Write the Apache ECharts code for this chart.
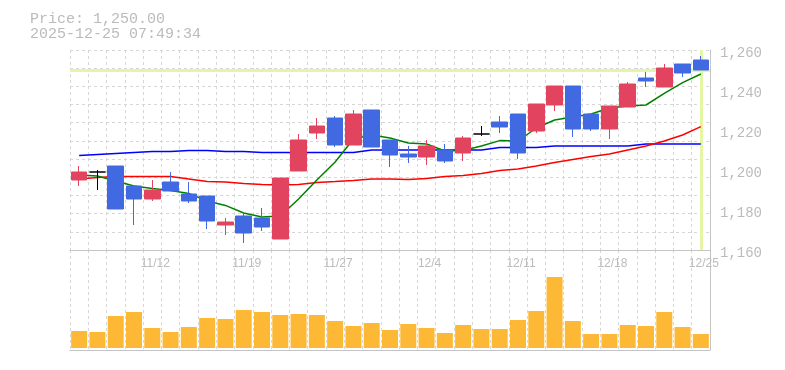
<!DOCTYPE html>
<html>
<head>
<meta charset="utf-8">
<script src="https://cdn.jsdelivr.net/npm/echarts@6/dist/echarts.min.js"></script>
<style>
html,body{margin:0;padding:0;background:#fff;}
#chart{width:785px;height:370px;}
</style>
</head>
<body>
<div id="chart"></div>
<script>
const dates = ['11/6','11/7','11/10','11/11','11/12','11/13','11/14','11/17','11/18','11/19','11/20','11/21','11/25','11/26','11/27','11/28','12/1','12/2','12/3','12/4','12/5','12/8','12/9','12/10','12/11','12/12','12/15','12/16','12/17','12/18','12/19','12/22','12/23','12/24','12/25'];
const xTickLabels = ['11/12','11/19','11/27','12/4','12/11','12/18','12/25'];
const yTickValues = [1160,1180,1200,1220,1240,1260];

const opens  = [1195,1199,1202,1192,1185.5,1194,1188,1187,1172.5,1177,1176,1165.5,1199.5,1218.5,1226,1212.5,1230,1215,1208,1206.5,1210,1208.5,1218,1224,1228,1219.5,1232.5,1242,1228,1220.5,1231.5,1246,1241.5,1253,1255];
const closes = [1199,1199,1180.5,1185.5,1190,1189.5,1184.5,1174.5,1174,1168.5,1171.5,1196,1215,1222,1212.5,1228,1211.5,1207.5,1206.5,1212,1204.5,1216,1218,1221.5,1208.5,1233,1242,1220.5,1220.5,1232,1243,1244.5,1251,1248.5,1250];
const lows   = [1192,1190,1180.5,1172.5,1184.5,1189.5,1183.5,1170.5,1167.5,1163.5,1169.5,1165.5,1199.5,1215.5,1211.5,1212.5,1211.5,1201.5,1203.5,1202.5,1203.5,1204.5,1217,1218.5,1205.5,1218.5,1229.5,1216.5,1219.5,1215.5,1231.5,1241.5,1241.5,1246.5,1250];
const highs  = [1202,1200,1202,1192,1195,1199,1194,1187,1176,1179,1181,1196,1218,1226,1227,1230,1230,1215,1212,1215,1213,1217,1222,1227,1228,1233,1242,1242,1228,1232,1244,1249,1253,1253,1257];

const maShort = [1197.5,1197,1194.5,1192,1190.8,1189.7,1188.3,1184.5,1182.3,1178.5,1176.5,1177,1185.5,1195,1204,1215.5,1217.5,1216,1213.5,1213,1209.5,1209.8,1212,1214.7,1214.5,1221,1225,1226.5,1228,1231,1232,1232.5,1238.3,1243.7,1248];
const maMid   = [1195.5,1196.2,1196.8,1196.8,1196.8,1196.7,1195.5,1194.2,1194,1193.3,1192.8,1192.5,1192.8,1193.7,1194.2,1194.8,1195.5,1195.5,1195.3,1195.8,1196.7,1197.3,1198.3,1199.7,1200.5,1202,1203.7,1205.3,1206.7,1208,1210,1212,1214.5,1217.5,1221.7];
const maLong  = [1207.3,1207.8,1208.3,1208.8,1209.3,1209.3,1209.8,1209.8,1209.3,1209.3,1208.8,1208.8,1208.8,1208.8,1208.8,1208.8,1210,1210,1210,1210,1210,1210,1210,1211.2,1211.3,1211.3,1212,1212,1212,1212,1212,1213,1213,1213,1213];

const volumes = [170,160,320,360,200,160,210,300,290,380,360,330,340,330,270,220,250,180,240,200,150,230,190,190,280,370,710,270,140,140,230,220,360,210,140];

const lastPrice = 1250;
const lastDate = '12/25';
const titleLines = ['Price: 1,250.00', '2025-12-25 07:49:34'];

const candleData = dates.map((d, i) => [opens[i], closes[i], lows[i], highs[i]]);

const gridColor = '#d6d6d6';
const frameColor = '#c4c4c4';
const textColor = '#bbbbbb';
const fmt = v => String(v).replace(/\B(?=(\d{3})+(?!\d))/g, ',');

const chart = echarts.init(document.getElementById('chart'), null, {renderer: 'canvas'});
chart.setOption({
  animation: false,
  backgroundColor: '#fff',
  title: {
    text: titleLines.join('\n'),
    left: 30, top: 12, padding: 0,
    textStyle: {fontFamily: 'Liberation Mono', fontSize: 15, fontWeight: 'normal', color: textColor, lineHeight: 15}
  },
  grid: [
    {left: 70, top: 50, width: 640, height: 200},
    {left: 70, top: 250, width: 640, height: 100}
  ],
  xAxis: [
    {
      type: 'category', data: dates, gridIndex: 0, boundaryGap: true,
      axisLine: {show: true, lineStyle: {color: frameColor, width: 1}},
      axisTick: {show: false},
      axisLabel: {
        interval: (i, v) => xTickLabels.indexOf(v) >= 0,
        fontFamily: 'Liberation Sans', fontSize: 12, color: textColor, margin: 8,
        padding: [0, 0, 0, 6]
      },
      splitLine: {show: true, interval: 0, lineStyle: {color: gridColor, type: [3, 3], width: 1}}
    },
    {
      type: 'category', data: dates, gridIndex: 1, boundaryGap: true,
      axisLine: {show: true, onZero: false, lineStyle: {color: frameColor, width: 1}},
      axisTick: {show: false},
      axisLabel: {show: false},
      splitLine: {show: true, interval: 0, lineStyle: {color: gridColor, type: [3, 3], width: 1}}
    }
  ],
  yAxis: [
    {
      type: 'value', gridIndex: 0, position: 'right',
      min: yTickValues[0], max: yTickValues[yTickValues.length - 1], interval: yTickValues[1] - yTickValues[0],
      axisLine: {show: true, lineStyle: {color: frameColor, width: 1}},
      axisTick: {show: false},
      splitLine: {show: false},
      axisLabel: {
        formatter: fmt, fontFamily: 'Liberation Mono', fontSize: 14, color: textColor, margin: 10,
        verticalAlign: 'top', lineHeight: 6
      }
    },
    {
      type: 'value', gridIndex: 0, position: 'left', min: 0, max: 11, interval: 1,
      axisLine: {show: false}, axisTick: {show: false}, axisLabel: {show: false},
      splitLine: {show: true, lineStyle: {color: gridColor, type: [3, 3], width: 1}}
    },
    {
      type: 'value', gridIndex: 1, position: 'right', min: -20, max: 980,
      axisLine: {show: true, lineStyle: {color: frameColor, width: 1}},
      axisTick: {show: false}, axisLabel: {show: false}, splitLine: {show: false}
    }
  ],
  series: [
    {
      type: 'candlestick', name: 'Price', xAxisIndex: 0, yAxisIndex: 0, z: 3,
      data: candleData, barWidth: 16,
      itemStyle: {
        color: '#e2445f', color0: '#4169e1',
        borderColor: '#e2445f', borderColor0: '#4169e1', borderColorDoji: '#000000', borderWidth: 1
      },
      markLine: {
        silent: true, symbol: ['none', 'none'], z: 1,
        label: {show: false},
        lineStyle: {color: '#e4f5a6', width: 3, type: 'solid'},
        data: [{yAxis: lastPrice}, {xAxis: lastDate}]
      }
    },
    {type: 'line', name: 'MA75', xAxisIndex: 0, yAxisIndex: 0, z: 2, data: maLong, symbol: 'none', lineStyle: {color: '#0000ff', width: 1.5}},
    {type: 'line', name: 'MA25', xAxisIndex: 0, yAxisIndex: 0, z: 2, data: maMid, symbol: 'none', lineStyle: {color: '#ff0000', width: 1.5}},
    {type: 'line', name: 'MA5', xAxisIndex: 0, yAxisIndex: 0, z: 2, data: maShort, symbol: 'none', lineStyle: {color: '#008000', width: 1.5}},
    {type: 'bar', name: 'Volume', xAxisIndex: 1, yAxisIndex: 2, data: volumes, barWidth: 16, itemStyle: {color: '#fdb935'}}
  ]
});
</script>
</body>
</html>
